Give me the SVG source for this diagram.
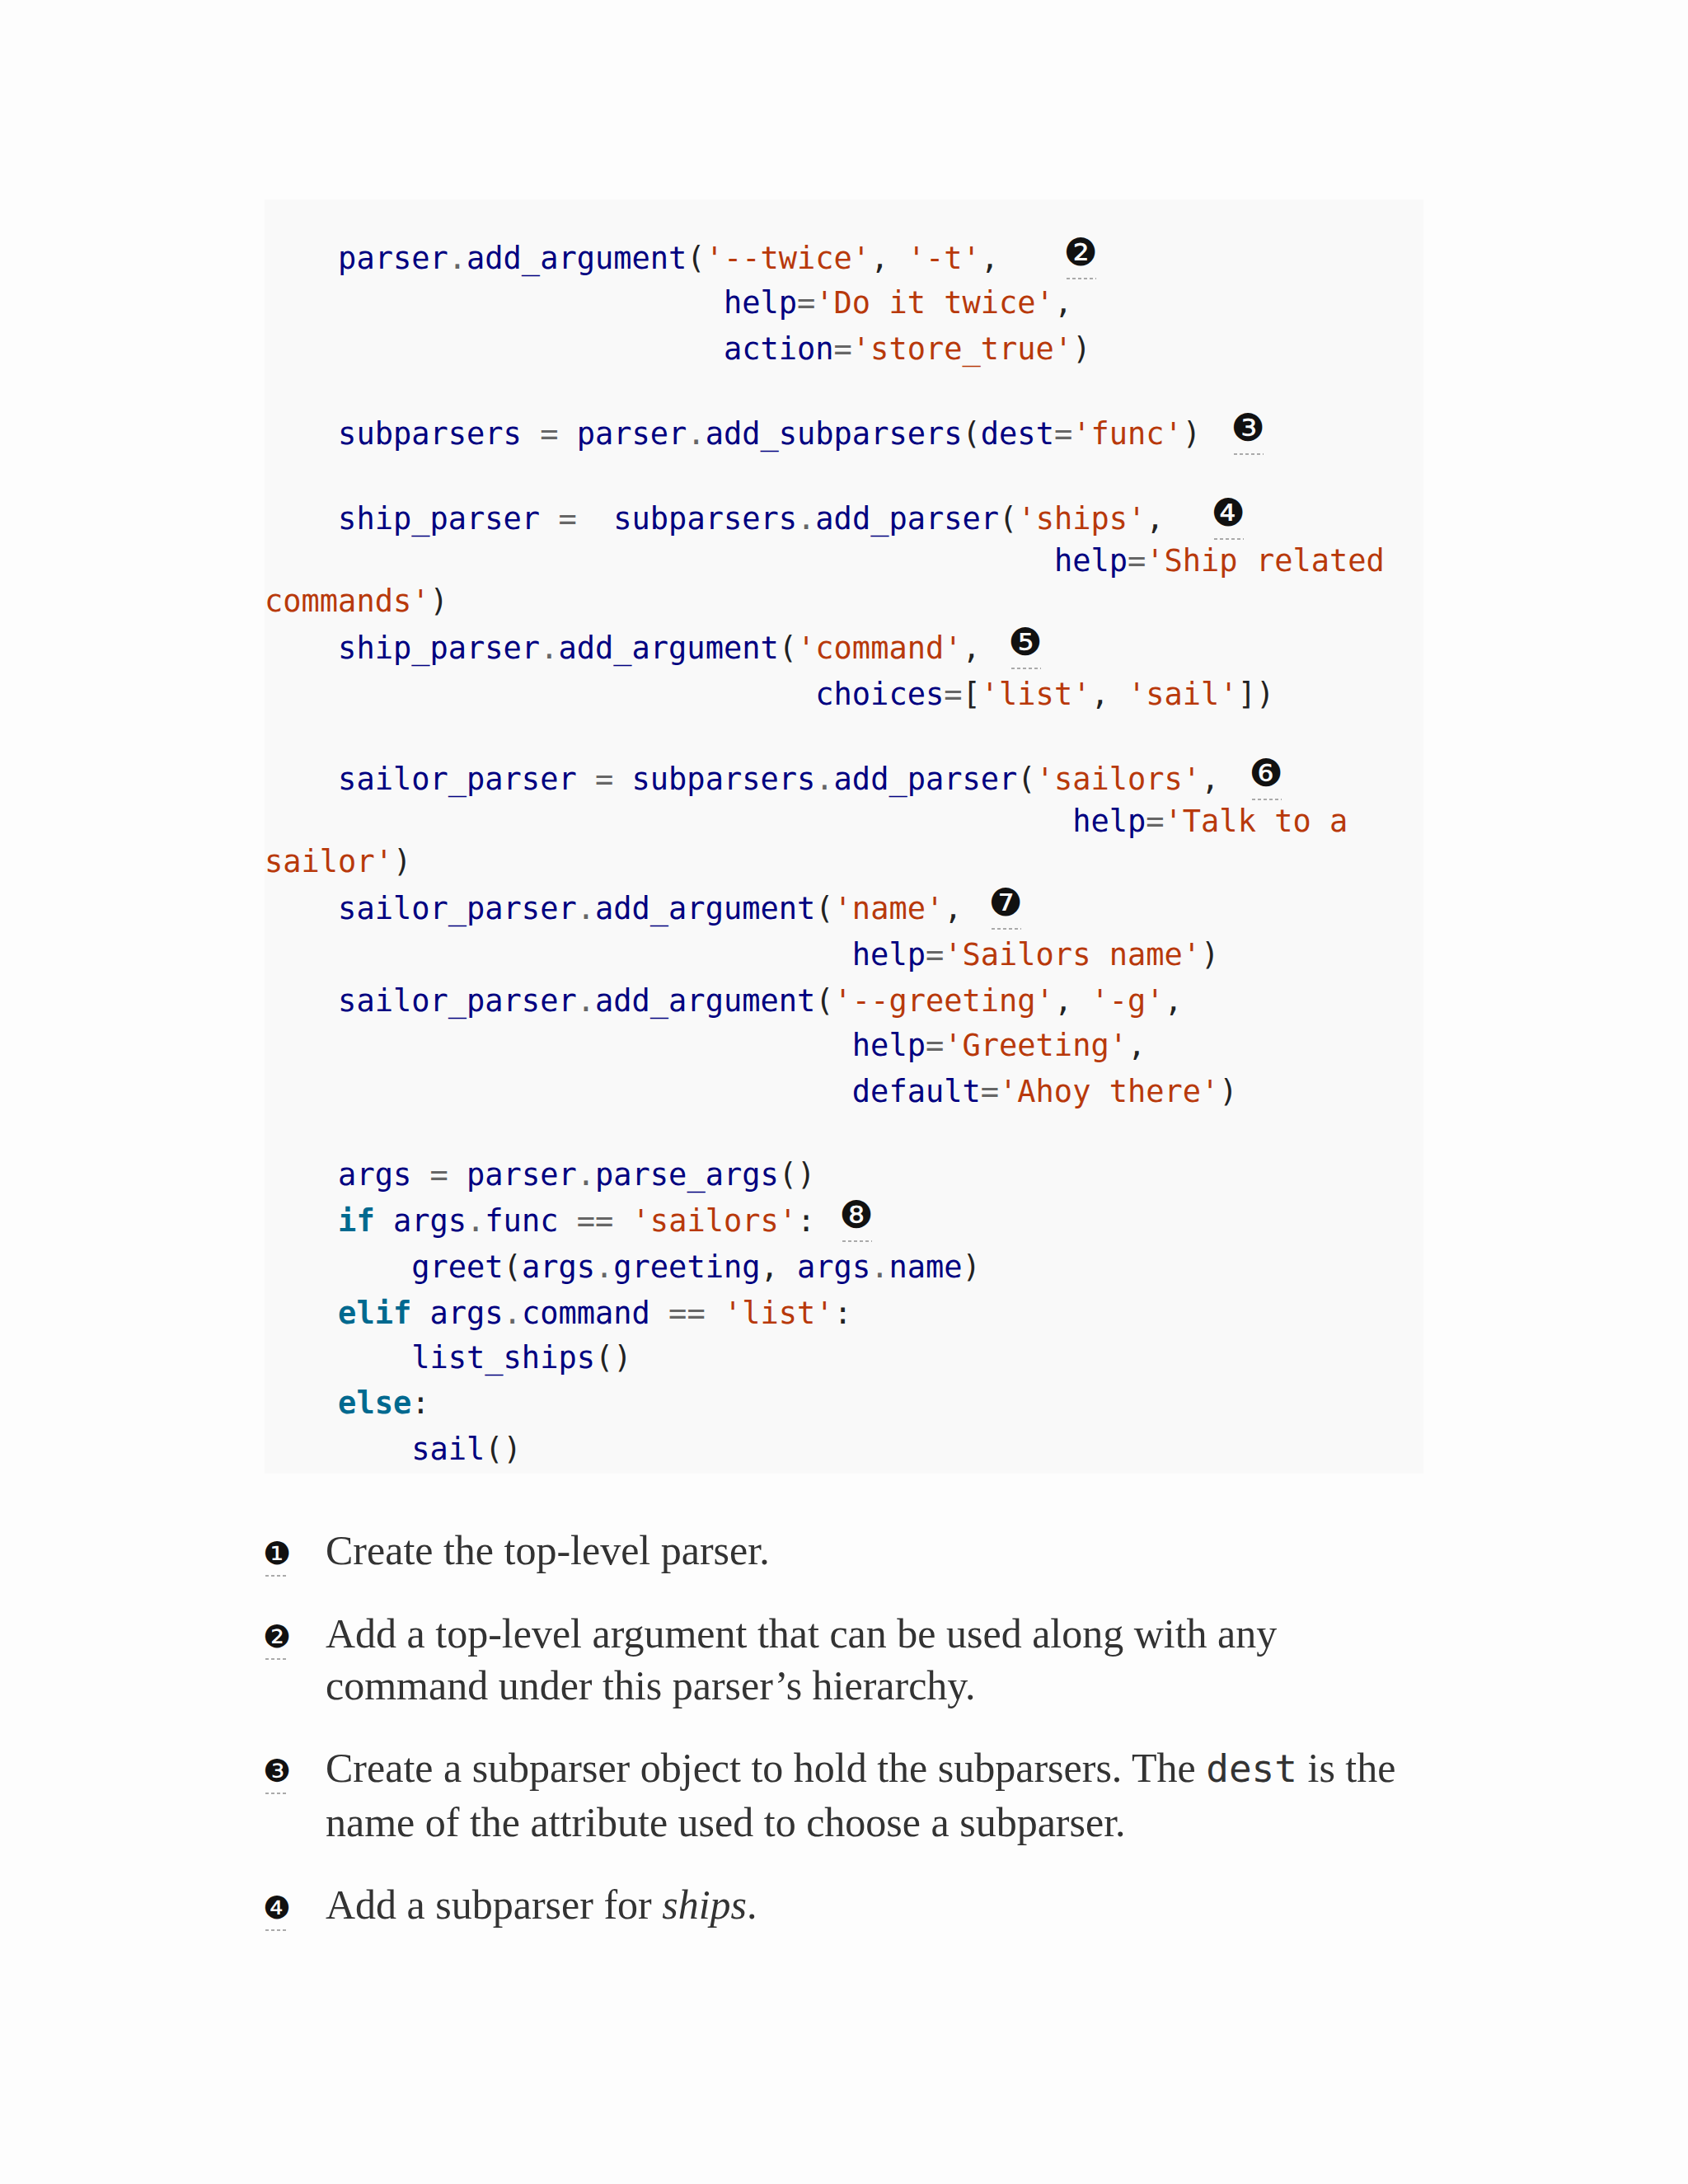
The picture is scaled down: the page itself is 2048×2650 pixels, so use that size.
<svg xmlns="http://www.w3.org/2000/svg" width="2048" height="2650" viewBox="0 0 2048 2650" xml:space="preserve">
<style>
.c{font-family:"DejaVu Sans Mono","Liberation Mono",monospace;font-size:37px;fill:#222;white-space:pre}
.n{fill:#000080}.s{fill:#b8390b}.o{fill:#666}.k{fill:#00698f;font-weight:bold}
.co{font-family:"DejaVu Sans",sans-serif;font-size:46px;fill:#111;text-anchor:middle}
.ul{stroke:#aaa;stroke-width:2;stroke-dasharray:4 3}
.p{font-family:"Liberation Serif","Times New Roman",serif;font-size:50px;fill:#333}
.pm{font-family:"DejaVu Sans Mono",monospace;font-size:46px}
.bc{font-family:"DejaVu Sans",sans-serif;font-size:38px;fill:#111;text-anchor:middle}
</style>
<rect width="2048" height="2650" fill="#fdfdfd"/>
<rect x="321" y="242" width="1406" height="1546" fill="#f9f9f9"/>
<g id="code">
<text class="c" x="321" y="326">    <tspan class="n">parser</tspan><tspan class="o">.</tspan><tspan class="n">add_argument</tspan>(<tspan class="s">'--twice'</tspan>, <tspan class="s">'-t'</tspan>,</text>
<text class="c" x="321" y="380">                         <tspan class="n">help</tspan><tspan class="o">=</tspan><tspan class="s">'Do it twice'</tspan>,</text>
<text class="c" x="321" y="436">                         <tspan class="n">action</tspan><tspan class="o">=</tspan><tspan class="s">'store_true'</tspan>)</text>
<text class="c" x="321" y="539">    <tspan class="n">subparsers</tspan> <tspan class="o">=</tspan> <tspan class="n">parser</tspan><tspan class="o">.</tspan><tspan class="n">add_subparsers</tspan>(<tspan class="n">dest</tspan><tspan class="o">=</tspan><tspan class="s">'func'</tspan>)</text>
<text class="c" x="321" y="642">    <tspan class="n">ship_parser</tspan> <tspan class="o">=</tspan>  <tspan class="n">subparsers</tspan><tspan class="o">.</tspan><tspan class="n">add_parser</tspan>(<tspan class="s">'ships'</tspan>,</text>
<text class="c" x="321" y="693">                                           <tspan class="n">help</tspan><tspan class="o">=</tspan><tspan class="s">'Ship related</tspan></text>
<text class="c" x="321" y="742"><tspan class="s">commands'</tspan>)</text>
<text class="c" x="321" y="799">    <tspan class="n">ship_parser</tspan><tspan class="o">.</tspan><tspan class="n">add_argument</tspan>(<tspan class="s">'command'</tspan>,</text>
<text class="c" x="321" y="855">                              <tspan class="n">choices</tspan><tspan class="o">=</tspan>[<tspan class="s">'list'</tspan>, <tspan class="s">'sail'</tspan>])</text>
<text class="c" x="321" y="958">    <tspan class="n">sailor_parser</tspan> <tspan class="o">=</tspan> <tspan class="n">subparsers</tspan><tspan class="o">.</tspan><tspan class="n">add_parser</tspan>(<tspan class="s">'sailors'</tspan>,</text>
<text class="c" x="321" y="1009">                                            <tspan class="n">help</tspan><tspan class="o">=</tspan><tspan class="s">'Talk to a</tspan></text>
<text class="c" x="321" y="1058"><tspan class="s">sailor'</tspan>)</text>
<text class="c" x="321" y="1115">    <tspan class="n">sailor_parser</tspan><tspan class="o">.</tspan><tspan class="n">add_argument</tspan>(<tspan class="s">'name'</tspan>,</text>
<text class="c" x="321" y="1171">                                <tspan class="n">help</tspan><tspan class="o">=</tspan><tspan class="s">'Sailors name'</tspan>)</text>
<text class="c" x="321" y="1227">    <tspan class="n">sailor_parser</tspan><tspan class="o">.</tspan><tspan class="n">add_argument</tspan>(<tspan class="s">'--greeting'</tspan>, <tspan class="s">'-g'</tspan>,</text>
<text class="c" x="321" y="1281">                                <tspan class="n">help</tspan><tspan class="o">=</tspan><tspan class="s">'Greeting'</tspan>,</text>
<text class="c" x="321" y="1337">                                <tspan class="n">default</tspan><tspan class="o">=</tspan><tspan class="s">'Ahoy there'</tspan>)</text>
<text class="c" x="321" y="1438">    <tspan class="n">args</tspan> <tspan class="o">=</tspan> <tspan class="n">parser</tspan><tspan class="o">.</tspan><tspan class="n">parse_args</tspan>()</text>
<text class="c" x="321" y="1494">    <tspan class="k">if</tspan> <tspan class="n">args</tspan><tspan class="o">.</tspan><tspan class="n">func</tspan> <tspan class="o">==</tspan> <tspan class="s">'sailors'</tspan>:</text>
<text class="c" x="321" y="1550">        <tspan class="n">greet</tspan>(<tspan class="n">args</tspan><tspan class="o">.</tspan><tspan class="n">greeting</tspan>, <tspan class="n">args</tspan><tspan class="o">.</tspan><tspan class="n">name</tspan>)</text>
<text class="c" x="321" y="1606">    <tspan class="k">elif</tspan> <tspan class="n">args</tspan><tspan class="o">.</tspan><tspan class="n">command</tspan> <tspan class="o">==</tspan> <tspan class="s">'list'</tspan>:</text>
<text class="c" x="321" y="1660">        <tspan class="n">list_ships</tspan>()</text>
<text class="c" x="321" y="1715">    <tspan class="k">else</tspan>:</text>
<text class="c" x="321" y="1771">        <tspan class="n">sail</tspan>()</text>
</g>
<g id="callouts">
<text class="co" x="1311" y="322">❷</text><line class="ul" x1="1294" y1="338" x2="1330" y2="338"/>
<text class="co" x="1514" y="535">❸</text><line class="ul" x1="1497" y1="551" x2="1533" y2="551"/>
<text class="co" x="1490" y="638">❹</text><line class="ul" x1="1473" y1="654" x2="1509" y2="654"/>
<text class="co" x="1244" y="795">❺</text><line class="ul" x1="1227" y1="811" x2="1263" y2="811"/>
<text class="co" x="1536" y="954">❻</text><line class="ul" x1="1519" y1="970" x2="1555" y2="970"/>
<text class="co" x="1220" y="1111">❼</text><line class="ul" x1="1203" y1="1127" x2="1239" y2="1127"/>
<text class="co" x="1039" y="1490">❽</text><line class="ul" x1="1022" y1="1506" x2="1058" y2="1506"/>
</g>
<g id="notes">
<text class="bc" x="336" y="1898">❶</text><line class="ul" x1="322" y1="1912" x2="350" y2="1912"/>
<text class="p" x="395" y="1898">Create the top-level parser.</text>
<text class="bc" x="336" y="1999">❷</text><line class="ul" x1="322" y1="2013" x2="350" y2="2013"/>
<text class="p" x="395" y="1999">Add a top-level argument that can be used along with any</text>
<text class="p" x="395" y="2062">command under this parser’s hierarchy.</text>
<text class="bc" x="336" y="2162">❸</text><line class="ul" x1="322" y1="2176" x2="350" y2="2176"/>
<text class="p" x="395" y="2162">Create a subparser object to hold the subparsers. The <tspan class="pm">dest</tspan> is the</text>
<text class="p" x="395" y="2228">name of the attribute used to choose a subparser.</text>
<text class="bc" x="336" y="2328">❹</text><line class="ul" x1="322" y1="2342" x2="350" y2="2342"/>
<text class="p" x="395" y="2328">Add a subparser for <tspan font-style="italic">ships</tspan>.</text>
</g>
</svg>
